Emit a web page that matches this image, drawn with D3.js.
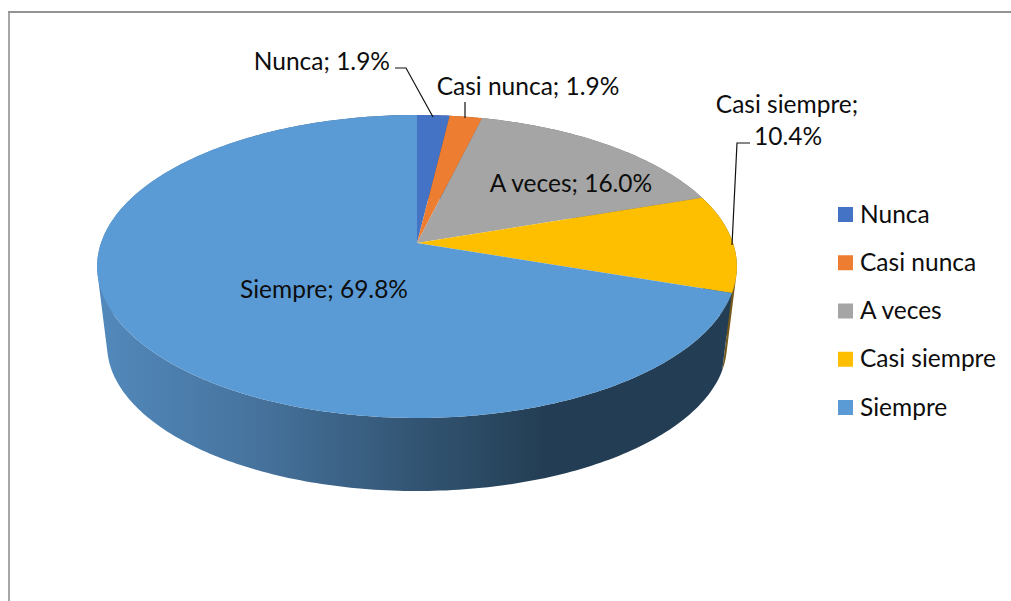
<!DOCTYPE html>
<html>
<head>
<meta charset="utf-8">
<script src="https://cdn.jsdelivr.net/npm/d3@7"></script>
<style>
  html, body { margin: 0; padding: 0; background: #fff; }
  svg { display: block; }
  text { font-family: Lato, "Open Sans", sans-serif; font-size: 24.5px; fill: #0d0d0d; }
</style>
</head>
<body>
<svg width="1011" height="601"></svg>
<script>
const categories = ['Nunca', 'Casi nunca', 'A veces', 'Casi siempre', 'Siempre'];
const values = [1.9, 1.9, 16.0, 10.4, 69.8];
const colors = ['#4472c4', '#ed7d31', '#a5a5a5', '#fdbf00', '#5b9bd5'];
const wallColors = ['#2b4a80', '#9c5220', '#6c6c6c', '#75591a', 'url(#wallGradient)'];

const svg = d3.select('svg');

// chart frame, only left and top show in the crop
svg.append('path')
  .attr('d', 'M9,601V12')
  .attr('fill', 'none')
  .attr('stroke', '#a6a6a6')
  .attr('stroke-width', 2);
svg.append('path')
  .attr('d', 'M8,12H1011')
  .attr('fill', 'none')
  .attr('stroke', '#949494')
  .attr('stroke-width', 2);

const defs = svg.append('defs');
const gradient = defs.append('linearGradient')
  .attr('id', 'wallGradient')
  .attr('gradientUnits', 'userSpaceOnUse')
  .attr('x1', 97).attr('x2', 545)
  .attr('y1', 0).attr('y2', 0);
[[0, '#5289bc'], [0.34, '#47749f'], [0.72, '#325472'], [1, '#233e54']].forEach(s => {
  gradient.append('stop').attr('offset', s[0]).attr('stop-color', s[1]);
});

// tilted pie: a perspective map of the unit circle onto the page
const cx = 417;
const vertexY = 243;
const persp = 0.155;
const radiusX = 316;
const radiusY = -110.2;

const project = (angle) => {
  const u = Math.sin(angle);
  const v = Math.cos(angle);
  const w = 1 + persp * v;
  return [cx + radiusX * u / w, (vertexY + radiusY * v) / w];
};

// the lower rim sits further away so it is a bit smaller
const projectBottom = (angle) => {
  const p = project(angle);
  return [cx + (p[0] - cx) * 0.969, 345 + (p[1] - 266.5) * 0.964];
};

const pie = d3.pie().sort(null).value(d => d);
const slices = pie(values).map((d, i) => ({ ...d, i }));

const arcSteps = (d) => d3.range(0, 1.0001, 1 / Math.max(2, Math.ceil((d.endAngle - d.startAngle) * 60)))
  .map(t => d.startAngle + (d.endAngle - d.startAngle) * t);

// side wall: all strips of a slice in one path, same winding, so no seams
const wallPath = (d) => d3.pairs(arcSteps(d)).map(s => {
  const quad = [project(s[0]), project(s[1]), projectBottom(s[1]), projectBottom(s[0])];
  if (d3.polygonArea(quad) < 0) quad.reverse();
  return d3.line()(quad) + 'Z';
}).join('');

svg.append('g').selectAll('path').data(slices).enter().append('path')
  .attr('d', wallPath)
  .attr('fill', d => wallColors[d.i]);

// top face
svg.append('g').selectAll('path').data(slices).enter().append('path')
  .attr('d', d => d3.line()([[cx, vertexY]].concat(arcSteps(d).map(project))) + 'Z')
  .attr('fill', d => colors[d.i]);

const labelText = (i) => categories[i] + '; ' + values[i].toFixed(1) + '%';

// leader lines
const leaders = [
  [[395, 68], [406, 68], [433, 117]],
  [[465, 102], [465, 118]],
  [[750, 143], [737, 143], [732, 245]]
];
svg.append('g').selectAll('path').data(leaders).enter().append('path')
  .attr('d', d3.line())
  .attr('fill', 'none')
  .attr('stroke', '#111')
  .attr('stroke-width', 1.2);

// data labels
svg.append('text').attr('x', 390).attr('y', 70).attr('text-anchor', 'end').text(labelText(0));
svg.append('text').attr('x', 528).attr('y', 95).attr('text-anchor', 'middle').text(labelText(1));
svg.append('text').attr('x', 571).attr('y', 192).attr('text-anchor', 'middle').text(labelText(2));
svg.append('text').attr('x', 787).attr('y', 113).attr('text-anchor', 'middle').text(categories[3] + ';');
svg.append('text').attr('x', 788).attr('y', 145).attr('text-anchor', 'middle').text(values[3].toFixed(1) + '%');
svg.append('text').attr('x', 324).attr('y', 298).attr('text-anchor', 'middle').text(labelText(4));

// legend
const legendY = d3.scalePoint().domain(categories).range([214.5, 407.5]);
const legend = svg.append('g').selectAll('g').data(categories).enter().append('g')
  .attr('transform', d => 'translate(838,' + legendY(d) + ')');
legend.append('rect')
  .attr('x', 0).attr('y', -7.5)
  .attr('width', 15).attr('height', 15)
  .attr('fill', (d, i) => colors[i]);
legend.append('text')
  .attr('x', 22).attr('y', 8)
  .text(d => d);
</script>
</body>
</html>
